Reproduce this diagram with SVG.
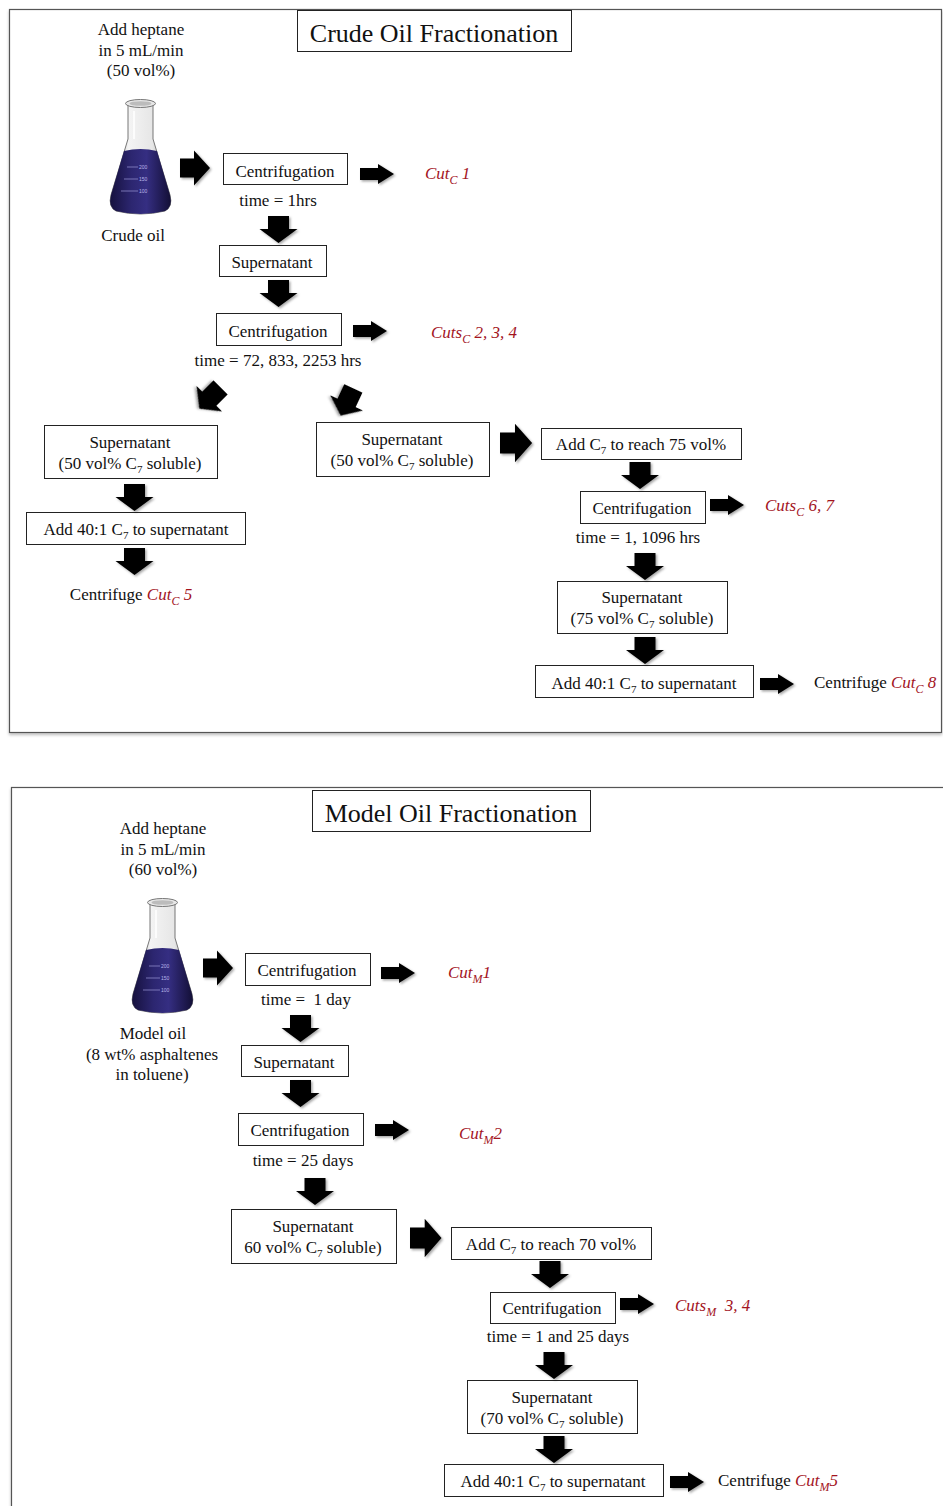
<svg xmlns="http://www.w3.org/2000/svg" xmlns:xlink="http://www.w3.org/1999/xlink" width="943" height="1506" viewBox="0 0 943 1506">
  <style>
    text { font-family: "Liberation Serif", "Times New Roman", serif; font-size: 17px; fill: #111; }
    .c { text-anchor: middle; }
    .title { font-size: 26px; }
    .cut { fill: #a3141e; font-style: italic; }
    .pre { white-space: pre; }
    .box { fill: #fff; stroke: #222; stroke-width: 1; }
    .panel { fill: #fff; stroke: #555; stroke-width: 1.2; }
    .arr { fill: #000; filter: url(#shade); }
    .grad { font-family: "Liberation Sans", sans-serif; font-size: 5px; fill: #b8b4e8; }
  </style>
  <defs>
    <filter id="shade" x="-30%" y="-30%" width="170%" height="170%">
      <feDropShadow dx="1.5" dy="1.5" stdDeviation="1" flood-color="#000" flood-opacity="0.35"/>
    </filter>
    <filter id="panelShade" x="-5%" y="-5%" width="110%" height="110%">
      <feDropShadow dx="0" dy="2" stdDeviation="1.5" flood-color="#000" flood-opacity="0.25"/>
    </filter>
    <!-- block arrows -->
    <path id="down" d="M-10.5,0 H10.5 V13 H19 L0,27 L-19,13 H-10.5 Z"/>
    <path id="rsmall" d="M0,-6 H18 V-10 L34,0 L18,10 V6 H0 Z"/>
    <path id="rbig" d="M0,-9.5 H14 V-17.5 L30,0 L14,17.5 V9.5 H0 Z"/>
    <path id="rcentre" d="M-15,-10 H1 V-18 L15,0 L1,18 V10 H-15 Z"/>
    <linearGradient id="liquid" x1="0" y1="0" x2="1" y2="0">
      <stop offset="0" stop-color="#16113e"/>
      <stop offset="0.35" stop-color="#2c2670"/>
      <stop offset="0.6" stop-color="#352e82"/>
      <stop offset="1" stop-color="#130f36"/>
    </linearGradient>
    <linearGradient id="glass" x1="0" y1="0" x2="1" y2="0">
      <stop offset="0" stop-color="#9a9a9a"/>
      <stop offset="0.3" stop-color="#f4f4f4"/>
      <stop offset="0.7" stop-color="#e6e6e6"/>
      <stop offset="1" stop-color="#8a8a8a"/>
    </linearGradient>
    <!-- Erlenmeyer flask, 65 x 116 -->
    <g id="flask">
      <path d="M20,6 L20,40 L3,96 Q0,108 8,112 Q32.5,118 57,112 Q65,108 62,96 L45,40 L45,6 Z" fill="url(#glass)" stroke="#777" stroke-width="1"/>
      <path d="M16,52 Q32.5,48 49,52 L62,96 Q65,108 57,112 Q32.5,118 8,112 Q0,108 3,96 Z" fill="url(#liquid)"/>
      <ellipse cx="32.5" cy="4.5" rx="15" ry="4" fill="#e8e8e8" stroke="#777" stroke-width="1"/>
      <ellipse cx="32.5" cy="4.5" rx="11" ry="2.3" fill="#bcbcbc"/>
      <line x1="26" y1="12" x2="26" y2="40" stroke="#fff" stroke-width="2" opacity="0.8"/>
      <g stroke="#8c88c8" stroke-width="1" opacity="0.8">
        <line x1="19" y1="68" x2="30" y2="68"/>
        <line x1="16" y1="80" x2="30" y2="80"/>
        <line x1="13" y1="92" x2="30" y2="92"/>
      </g>
      <text class="grad" x="31" y="70">200</text>
      <text class="grad" x="31" y="82">150</text>
      <text class="grad" x="31" y="94">100</text>
    </g>
  </defs>

  <rect width="943" height="1506" fill="#fff"/>

  <!-- ================= Crude oil panel ================= -->
  <g id="crude-panel">
    <rect class="panel" x="9.5" y="9.5" width="932" height="723" filter="url(#panelShade)"/>
    <g id="crude-title">
      <rect class="box" x="297.5" y="10.5" width="274" height="41"/>
      <text class="c title" x="434" y="42">Crude Oil Fractionation</text>
    </g>
    <g id="crude-heptane">
      <text class="c" x="141" y="35">Add heptane</text>
      <text class="c" x="141" y="56">in 5 mL/min</text>
      <text class="c" x="141" y="76">(50 vol%)</text>
    </g>
    <g id="crude-flask">
      <use xlink:href="#flask" x="108" y="99"/>
      <text class="c" x="133" y="241">Crude oil</text>
    </g>
    <g id="crude-centrif1">
      <rect class="box" x="223.5" y="153.5" width="124" height="31"/>
      <text class="c" x="285" y="177">Centrifugation</text>
      <text class="c" x="278" y="206">time = 1hrs</text>
    </g>
    <g id="crude-cut1">
      <text class="cut" x="425" y="179">Cut<tspan font-size="12" dy="5">C</tspan><tspan dy="-5"> 1</tspan></text>
    </g>
    <g id="crude-super1">
      <rect class="box" x="219.5" y="245.5" width="107" height="31"/>
      <text class="c" x="272" y="268">Supernatant</text>
    </g>
    <g id="crude-centrif2">
      <rect class="box" x="216.5" y="313.5" width="125" height="32"/>
      <text class="c" x="278" y="337">Centrifugation</text>
      <text class="c" x="278" y="366">time = 72, 833, 2253 hrs</text>
    </g>
    <g id="crude-cut234">
      <text class="cut" x="431" y="338">Cuts<tspan font-size="12" dy="5">C</tspan><tspan dy="-5"> 2, 3, 4</tspan></text>
    </g>
    <g id="crude-super50-left">
      <rect class="box" x="44.5" y="425.5" width="173" height="53"/>
      <text class="c" x="130" y="448">Supernatant</text>
      <text class="c" x="130" y="469">(50 vol% C<tspan font-size="11" dy="4">7</tspan><tspan dy="-4"> soluble)</tspan></text>
    </g>
    <g id="crude-add40-left">
      <rect class="box" x="26.5" y="512.5" width="219" height="32"/>
      <text class="c" x="136" y="535">Add 40:1 C<tspan font-size="11" dy="4">7</tspan><tspan dy="-4"> to supernatant</tspan></text>
    </g>
    <g id="crude-cut5">
      <text class="c" x="131" y="600">Centrifuge <tspan class="cut">Cut</tspan><tspan class="cut" font-size="12" dy="5">C</tspan><tspan class="cut" dy="-5"> 5</tspan></text>
    </g>
    <g id="crude-super50-right">
      <rect class="box" x="316.5" y="422.5" width="173" height="54"/>
      <text class="c" x="402" y="445">Supernatant</text>
      <text class="c" x="402" y="466">(50 vol% C<tspan font-size="11" dy="4">7</tspan><tspan dy="-4"> soluble)</tspan></text>
    </g>
    <g id="crude-add75">
      <rect class="box" x="541.5" y="428.5" width="200" height="31"/>
      <text class="c" x="641" y="450">Add C<tspan font-size="11" dy="4">7</tspan><tspan dy="-4"> to reach 75 vol%</tspan></text>
    </g>
    <g id="crude-centrif3">
      <rect class="box" x="580.5" y="491.5" width="125" height="32"/>
      <text class="c" x="642" y="514">Centrifugation</text>
      <text class="c" x="638" y="543">time = 1, 1096 hrs</text>
    </g>
    <g id="crude-cut67">
      <text class="cut" x="765" y="511">Cuts<tspan font-size="12" dy="5">C</tspan><tspan dy="-5"> 6, 7</tspan></text>
    </g>
    <g id="crude-super75">
      <rect class="box" x="557.5" y="581.5" width="170" height="52"/>
      <text class="c" x="642" y="603">Supernatant</text>
      <text class="c" x="642" y="624">(75 vol% C<tspan font-size="11" dy="4">7</tspan><tspan dy="-4"> soluble)</tspan></text>
    </g>
    <g id="crude-add40-right">
      <rect class="box" x="535.5" y="665.5" width="218" height="32"/>
      <text class="c" x="644" y="689">Add 40:1 C<tspan font-size="11" dy="4">7</tspan><tspan dy="-4"> to supernatant</tspan></text>
    </g>
    <g id="crude-cut8">
      <text x="814" y="688">Centrifuge <tspan class="cut">Cut</tspan><tspan class="cut" font-size="12" dy="5">C</tspan><tspan class="cut" dy="-5"> 8</tspan></text>
    </g>
  </g>

  <!-- ================= Model oil panel ================= -->
  <g id="model-panel">
    <rect class="panel" x="11.5" y="787.5" width="945" height="740" filter="url(#panelShade)"/>
    <g id="model-title">
      <rect class="box" x="312.5" y="790.5" width="278" height="41"/>
      <text class="c title" x="451" y="822">Model Oil Fractionation</text>
    </g>
    <g id="model-heptane">
      <text class="c" x="163" y="834">Add heptane</text>
      <text class="c" x="163" y="855">in 5 mL/min</text>
      <text class="c" x="163" y="875">(60 vol%)</text>
    </g>
    <g id="model-flask">
      <use xlink:href="#flask" x="130" y="898"/>
      <text class="c" x="153" y="1039">Model oil</text>
      <text class="c" x="152" y="1060">(8 wt% asphaltenes</text>
      <text class="c" x="152" y="1080">in toluene)</text>
    </g>
    <g id="model-centrif1">
      <rect class="box" x="245.5" y="953.5" width="125" height="32"/>
      <text class="c" x="307" y="976">Centrifugation</text>
      <text class="c pre" x="306" y="1005">time =  1 day</text>
    </g>
    <g id="model-cut1">
      <text class="cut" x="448" y="978">Cut<tspan font-size="12" dy="5">M</tspan><tspan dy="-5">1</tspan></text>
    </g>
    <g id="model-super1">
      <rect class="box" x="241.5" y="1045.5" width="107" height="31"/>
      <text class="c" x="294" y="1068">Supernatant</text>
    </g>
    <g id="model-centrif2">
      <rect class="box" x="238.5" y="1113.5" width="125" height="32"/>
      <text class="c" x="300" y="1136">Centrifugation</text>
      <text class="c" x="303" y="1166">time = 25 days</text>
    </g>
    <g id="model-cut2">
      <text class="cut" x="459" y="1139">Cut<tspan font-size="12" dy="5">M</tspan><tspan dy="-5">2</tspan></text>
    </g>
    <g id="model-super60">
      <rect class="box" x="231.5" y="1209.5" width="165" height="54"/>
      <text class="c" x="313" y="1232">Supernatant</text>
      <text class="c" x="313" y="1253">60 vol% C<tspan font-size="11" dy="4">7</tspan><tspan dy="-4"> soluble)</tspan></text>
    </g>
    <g id="model-add70">
      <rect class="box" x="451.5" y="1227.5" width="200" height="32"/>
      <text class="c" x="551" y="1250">Add C<tspan font-size="11" dy="4">7</tspan><tspan dy="-4"> to reach 70 vol%</tspan></text>
    </g>
    <g id="model-centrif3">
      <rect class="box" x="490.5" y="1292.5" width="125" height="31"/>
      <text class="c" x="552" y="1314">Centrifugation</text>
      <text class="c" x="558" y="1342">time = 1 and 25 days</text>
    </g>
    <g id="model-cut34">
      <text class="cut pre" x="675" y="1311">Cuts<tspan font-size="12" dy="5">M</tspan><tspan dy="-5">  3, 4</tspan></text>
    </g>
    <g id="model-super70">
      <rect class="box" x="467.5" y="1380.5" width="170" height="53"/>
      <text class="c" x="552" y="1403">Supernatant</text>
      <text class="c" x="552" y="1424">(70 vol% C<tspan font-size="11" dy="4">7</tspan><tspan dy="-4"> soluble)</tspan></text>
    </g>
    <g id="model-add40">
      <rect class="box" x="444.5" y="1464.5" width="219" height="32"/>
      <text class="c" x="553" y="1487">Add 40:1 C<tspan font-size="11" dy="4">7</tspan><tspan dy="-4"> to supernatant</tspan></text>
    </g>
    <g id="model-cut5">
      <text x="718" y="1486">Centrifuge <tspan class="cut">Cut</tspan><tspan class="cut" font-size="12" dy="5">M</tspan><tspan class="cut" dy="-5">5</tspan></text>
    </g>
  </g>

  <!-- ================= connectors ================= -->
  <g id="connectors">
    <!-- crude oil -->
    <use class="arr" xlink:href="#rbig" x="180" y="168"/>
    <use class="arr" xlink:href="#rsmall" x="360" y="174"/>
    <use class="arr" xlink:href="#down" x="278.5" y="216"/>
    <use class="arr" xlink:href="#down" x="278.5" y="280"/>
    <use class="arr" xlink:href="#rsmall" x="353" y="331"/>
    <use class="arr" xlink:href="#rcentre" transform="translate(210,398) rotate(135)"/>
    <use class="arr" xlink:href="#rcentre" transform="translate(347,402) rotate(115)"/>
    <use class="arr" xlink:href="#down" x="134.5" y="484"/>
    <use class="arr" xlink:href="#down" x="134.5" y="548"/>
    <use class="arr" xlink:href="#rbig" transform="translate(500,443) scale(1.07,1.1)"/>
    <use class="arr" xlink:href="#down" x="640" y="462"/>
    <use class="arr" xlink:href="#rsmall" x="710" y="505"/>
    <use class="arr" xlink:href="#down" x="645" y="553"/>
    <use class="arr" xlink:href="#down" x="645" y="637"/>
    <use class="arr" xlink:href="#rsmall" x="760" y="684"/>
    <!-- model oil -->
    <use class="arr" xlink:href="#rbig" x="203" y="968"/>
    <use class="arr" xlink:href="#rsmall" x="381" y="973"/>
    <use class="arr" xlink:href="#down" x="300.5" y="1015"/>
    <use class="arr" xlink:href="#down" x="300.5" y="1080"/>
    <use class="arr" xlink:href="#rsmall" x="375" y="1130"/>
    <use class="arr" xlink:href="#down" x="315" y="1178"/>
    <use class="arr" xlink:href="#rbig" transform="translate(410,1238) scale(1.05,1.1)"/>
    <use class="arr" xlink:href="#down" x="550" y="1261"/>
    <use class="arr" xlink:href="#rsmall" x="620" y="1304"/>
    <use class="arr" xlink:href="#down" x="554" y="1352"/>
    <use class="arr" xlink:href="#down" x="554" y="1436"/>
    <use class="arr" xlink:href="#rsmall" x="670" y="1482"/>
  </g>
</svg>
